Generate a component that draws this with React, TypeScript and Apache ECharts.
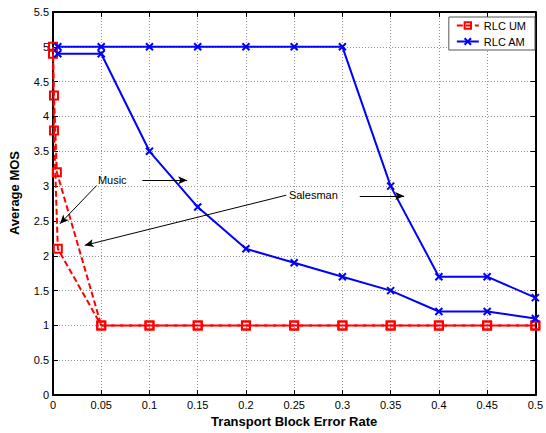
import React, { useEffect, useRef } from 'react';
import * as echarts from 'echarts';

// RLC UM (red, dashed, squares)
const umMusicX = [0, 0.001, 0.005, 0.05, 0.1, 0.15, 0.2, 0.25, 0.3, 0.35, 0.4, 0.45, 0.5];
const umMusicY = [5, 3.8, 2.1, 1, 1, 1, 1, 1, 1, 1, 1, 1, 1];
const umSalesX = [0, 0.001, 0.004, 0.05, 0.1, 0.15, 0.2, 0.25, 0.3, 0.35, 0.4, 0.45, 0.5];
const umSalesY = [4.9, 4.3, 3.2, 1, 1, 1, 1, 1, 1, 1, 1, 1, 1];

// RLC AM (blue, solid, x markers)
const amX = [0.005, 0.05, 0.1, 0.15, 0.2, 0.25, 0.3, 0.35, 0.4, 0.45, 0.5];
const amMusicY = [4.9, 4.9, 3.5, 2.7, 2.1, 1.9, 1.7, 1.5, 1.2, 1.2, 1.1];
const amSalesY = [5, 5, 5, 5, 5, 5, 5, 3, 1.7, 1.7, 1.4];

const seriesNames = ['RLC UM', 'RLC AM'];
const xTitle = 'Transport Block Error Rate';
const yTitle = 'Average MOS';

// annotations (data coordinates)
const annotationTexts = [
  { name: 'Music', at: [0.046, 3.085] },
  { name: 'Salesman', at: [0.244, 2.87] },
];
const annotationArrows = [
  [[0.0453, 3.01], [0.0072, 2.46]],
  [[0.0926, 3.085], [0.139, 3.085]],
  [[0.2418, 2.87], [0.0329, 2.15]],
  [[0.318, 2.86], [0.364, 2.86]],
];

const FONT = '"Liberation Sans", Arial, Helvetica, sans-serif';
const RED = '#ff0000';
const BLUE = '#0000ff';

const zip = (xs: number[], ys: number[]) => xs.map((x, i) => [x, ys[i]]);

const xSymbol = 'path://M0,0L10,10M0,10L10,0';

export default function App() {
  const ref = useRef<HTMLDivElement>(null);
  useEffect(() => {
    const chart = echarts.init(ref.current!, null, { renderer: 'svg' });
    const redSeries = (data: number[][], withAnno: boolean) => ({
      type: 'line',
      name: seriesNames[0],
      data,
      clip: false,
      symbol: 'rect',
      symbolSize: 8,
      showAllSymbol: true,
      lineStyle: { color: RED, width: 2, type: [6, 3] },
      itemStyle: { color: 'rgba(0,0,0,0)', borderColor: RED, borderWidth: 2 },
      z: 2,
      ...(withAnno
        ? {
            markLine: {
              silent: true,
              symbol: ['none', 'arrow'],
              symbolSize: [6, 9],
              label: { show: false },
              lineStyle: { color: '#000', width: 1, type: 'solid' },
              data: annotationArrows.map(([a, b]) => [{ coord: a }, { coord: b }]),
            },
            markPoint: {
              silent: true,
              symbol: 'rect',
              symbolSize: 1,
              itemStyle: { color: 'rgba(0,0,0,0)' },
              label: {
                show: true,
                position: 'right',
                distance: 0,
                color: '#000',
                fontSize: 11,
                fontFamily: FONT,
                formatter: (p: any) => p.name,
              },
              data: annotationTexts.map((t) => ({ name: t.name, coord: t.at })),
            },
          }
        : {}),
    });
    const blueSeries = (data: number[][]) => ({
      type: 'line',
      name: seriesNames[1],
      data,
      clip: false,
      symbol: xSymbol,
      symbolSize: 7,
      showAllSymbol: true,
      lineStyle: { color: BLUE, width: 2 },
      itemStyle: { color: BLUE, borderColor: BLUE, borderWidth: 2 },
      z: 3,
    });
    const tickStyle = { show: true, inside: true, length: 5, lineStyle: { color: '#000', width: 1 } };
    const axisLine = { show: true, onZero: false, lineStyle: { color: '#000', width: 2 } };
    const grid = { show: true, lineStyle: { color: '#909090', width: 1, type: [1, 2] } };
    chart.setOption({
      animation: false,
      backgroundColor: '#fff',
      grid: { left: 53, right: 7, top: 12, bottom: 33 },
      legend: {
        data: seriesNames,
        orient: 'vertical',
        right: 11,
        top: 17,
        itemWidth: 22,
        itemHeight: 8,
        itemGap: 5,
        padding: [3, 9, 3, 7],
        backgroundColor: '#fff',
        borderColor: '#555',
        borderWidth: 1,
        textStyle: { fontSize: 11, fontFamily: FONT, color: '#000' },
      },
      xAxis: [
        {
          type: 'value',
          min: 0,
          max: 0.5,
          interval: 0.05,
          name: xTitle,
          nameLocation: 'middle',
          nameGap: 15,
          nameTextStyle: { fontSize: 13, fontWeight: 'bold', fontFamily: FONT, color: '#000' },
          axisLine,
          axisTick: tickStyle,
          axisLabel: {
            margin: 4,
            fontSize: 11,
            fontFamily: FONT,
            color: '#000',
            showMinLabel: true,
            showMaxLabel: true,
            formatter: (v: number) => String(Math.round(v * 100) / 100),
          },
          splitLine: grid,
        },
        {
          type: 'value',
          position: 'top',
          min: 0,
          max: 0.5,
          interval: 0.05,
          axisLine,
          axisTick: tickStyle,
          axisLabel: { show: false },
          splitLine: { show: false },
        },
      ],
      yAxis: [
        {
          type: 'value',
          min: 0,
          max: 5.5,
          interval: 0.5,
          axisLine,
          axisTick: tickStyle,
          axisLabel: {
            margin: 4,
            fontSize: 11,
            fontFamily: FONT,
            color: '#000',
            showMinLabel: true,
            showMaxLabel: true,
          },
          splitLine: grid,
        },
        {
          type: 'value',
          position: 'right',
          min: 0,
          max: 5.5,
          interval: 0.5,
          axisLine,
          axisTick: tickStyle,
          axisLabel: { show: false },
          splitLine: { show: false },
        },
      ],
      graphic: [
        {
          type: 'text',
          x: 14,
          y: 193,
          rotation: Math.PI / 2,
          style: {
            text: yTitle,
            fontSize: 13,
            fontWeight: 'bold',
            fontFamily: FONT,
            fill: '#000',
            textAlign: 'center',
            textVerticalAlign: 'middle',
          },
        },
      ],
      series: [
        redSeries(zip(umMusicX, umMusicY), true),
        redSeries(zip(umSalesX, umSalesY), false),
        blueSeries(zip(amX, amMusicY)),
        blueSeries(zip(amX, amSalesY)),
      ],
    });
    return () => chart.dispose();
  }, []);
  return (
    <div
      ref={ref}
      style={{ position: 'absolute', left: 0, top: 0, width: 546, height: 433, background: '#fff' }}
    />
  );
}
